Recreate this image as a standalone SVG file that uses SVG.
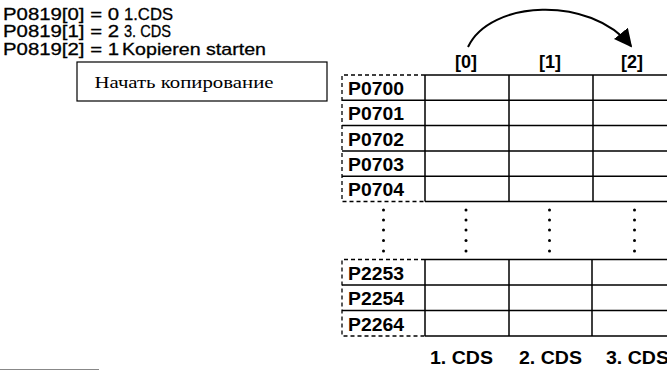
<svg xmlns="http://www.w3.org/2000/svg" width="667" height="370" viewBox="0 0 667 370">
<style>
.t{font-family:"Liberation Sans",Arial,sans-serif;font-size:17px;fill:#000;stroke:#000;stroke-width:0.3}
.lbl{font-family:"Liberation Sans",Arial,sans-serif;font-size:18px;font-weight:bold;fill:#000}
.grid{stroke:#000;stroke-width:1.5;fill:none}
.dash{stroke:#000;stroke-width:1.3;fill:none;stroke-dasharray:4 3}
.dot{fill:#000}
</style>
<defs>
<marker id="ah" viewBox="0 0 10 10" refX="9" refY="5" markerWidth="18" markerHeight="18" markerUnits="userSpaceOnUse" orient="auto">
<path d="M0,0 L10,5 L0,10 z" fill="#000"/>
</marker>
</defs>
<rect width="667" height="370" fill="#fff"/>
<g id="params">
<text class="t" x="3" y="19.5" textLength="116" lengthAdjust="spacingAndGlyphs">P0819[0] = 0</text>
<text class="t" x="124" y="19.5" textLength="49" lengthAdjust="spacingAndGlyphs">1.CDS</text>
<text class="t" x="3" y="37" textLength="116" lengthAdjust="spacingAndGlyphs">P0819[1] = 2</text>
<text class="t" x="124" y="37" textLength="47" lengthAdjust="spacingAndGlyphs">3. CDS</text>
<text class="t" x="3" y="54.5" textLength="116" lengthAdjust="spacingAndGlyphs">P0819[2] = 1</text>
<text class="t" x="122" y="54.5" textLength="144" lengthAdjust="spacingAndGlyphs">Kopieren starten</text>
</g>
<g id="note">
<rect x="77" y="62" width="250" height="39" fill="#fff" stroke="#000" stroke-width="1.2"/>
<text x="184" y="87.5" font-family="Liberation Serif,'Times New Roman',serif" font-size="17" text-anchor="middle" textLength="179" lengthAdjust="spacingAndGlyphs">Начать копирование</text>
</g>
<g id="headers" class="lbl" text-anchor="middle">
<text x="466" y="68">[0]</text>
<text x="550" y="68">[1]</text>
<text x="632" y="68">[2]</text>
</g>
<g id="connectors">
<path d="M468,47 C490,0 590,-5 631,46" fill="none" stroke="#000" stroke-width="2" marker-end="url(#ah)"/>
</g>
<g id="table-top">
<path class="dash" d="M425,75 H342 V201.5 H425"/>
<path class="grid" d="M425,75 H667 M342,100.3 H667 M342,125.6 H667 M342,151 H667 M342,176.3 H667 M425,201.5 H667 M425,75 V201.5 M509,75 V201.5 M593,75 V201.5"/>
<g class="lbl">
<text x="348" y="95" textLength="56" lengthAdjust="spacingAndGlyphs">P0700</text>
<text x="348" y="120" textLength="56" lengthAdjust="spacingAndGlyphs">P0701</text>
<text x="348" y="145.5" textLength="56" lengthAdjust="spacingAndGlyphs">P0702</text>
<text x="348" y="171" textLength="56" lengthAdjust="spacingAndGlyphs">P0703</text>
<text x="348" y="196" textLength="56" lengthAdjust="spacingAndGlyphs">P0704</text>
</g>
</g>
<g id="ellipsis">
<g transform="translate(383.5,0)"><circle class="dot" cx="0" cy="210" r="1.5"/><circle class="dot" cx="0" cy="220" r="1.5"/><circle class="dot" cx="0" cy="230" r="1.5"/><circle class="dot" cx="0" cy="240.5" r="1.5"/><circle class="dot" cx="0" cy="251" r="1.5"/></g>
<g transform="translate(466,0)"><circle class="dot" cx="0" cy="210" r="1.5"/><circle class="dot" cx="0" cy="220" r="1.5"/><circle class="dot" cx="0" cy="230" r="1.5"/><circle class="dot" cx="0" cy="240.5" r="1.5"/><circle class="dot" cx="0" cy="251" r="1.5"/></g>
<g transform="translate(549.5,0)"><circle class="dot" cx="0" cy="210" r="1.5"/><circle class="dot" cx="0" cy="220" r="1.5"/><circle class="dot" cx="0" cy="230" r="1.5"/><circle class="dot" cx="0" cy="240.5" r="1.5"/><circle class="dot" cx="0" cy="251" r="1.5"/></g>
<g transform="translate(634.5,0)"><circle class="dot" cx="0" cy="210" r="1.5"/><circle class="dot" cx="0" cy="220" r="1.5"/><circle class="dot" cx="0" cy="230" r="1.5"/><circle class="dot" cx="0" cy="240.5" r="1.5"/><circle class="dot" cx="0" cy="251" r="1.5"/></g>
</g>
<g id="table-bottom">
<path class="dash" d="M425,259.5 H342 V336 H425"/>
<path class="grid" d="M425,259.5 H667 M342,285 H667 M342,310.5 H667 M425,336 H667 M425,259.5 V336 M509,259.5 V336 M592,259.5 V336"/>
<g class="lbl">
<text x="348" y="279.5" textLength="56" lengthAdjust="spacingAndGlyphs">P2253</text>
<text x="348" y="305" textLength="56" lengthAdjust="spacingAndGlyphs">P2254</text>
<text x="348" y="330.5" textLength="56" lengthAdjust="spacingAndGlyphs">P2264</text>
</g>
</g>
<g id="footer" class="lbl">
<text x="430" y="364" textLength="63" lengthAdjust="spacingAndGlyphs">1. CDS</text>
<text x="519" y="364" textLength="63" lengthAdjust="spacingAndGlyphs">2. CDS</text>
<text x="606" y="364" textLength="63" lengthAdjust="spacingAndGlyphs">3. CDS</text>
</g>
<line x1="0" y1="369.5" x2="99" y2="369.5" stroke="#888" stroke-width="1"/>
</svg>
